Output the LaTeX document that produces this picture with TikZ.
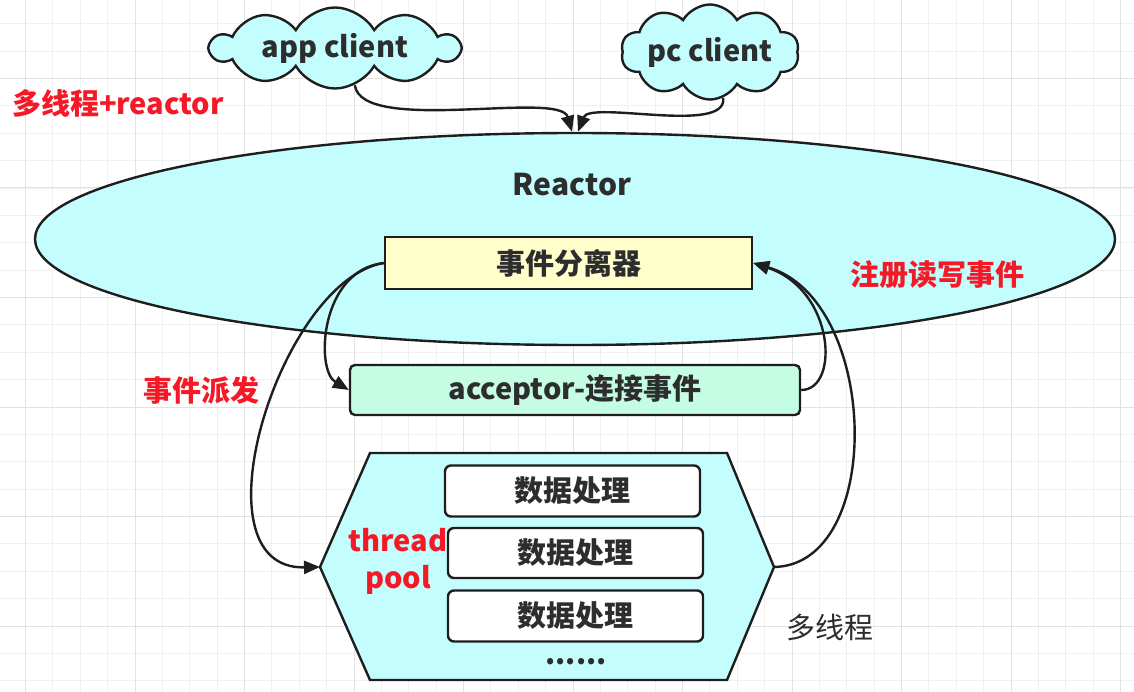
\documentclass[tikz,border=0pt]{standalone}
\usepackage{fontspec}
\setmainfont{Noto Sans CJK SC}
\usetikzlibrary{shapes.symbols, shapes.geometric, arrows.meta, positioning}
\definecolor{cyanfill}{RGB}{196,253,253}
\definecolor{yellowfill}{RGB}{255,255,204}
\definecolor{mintfill}{RGB}{196,252,228}
\definecolor{redtxt}{RGB}{245,25,40}
\definecolor{darktxt}{RGB}{45,45,45}
\definecolor{linecol}{RGB}{30,30,30}
\definecolor{gridminor}{RGB}{240,240,240}
\definecolor{gridmajor}{RGB}{226,226,226}

\begin{document}
\begin{tikzpicture}[x=1pt, y=-1pt,
    txt/.style={text=darktxt, font=\bfseries\fontsize{29}{29}\selectfont},
    redlabel/.style={text=redtxt, font=\bfseries\fontsize{29}{37}\selectfont, align=center},
    cloudnode/.style={cloud, cloud puffs=10, cloud puff arc=120, cloud ignores aspect,
      draw=linecol, fill=cyanfill, line width=2.4pt, inner sep=0pt, txt},
    evbox/.style={draw=linecol, fill=yellowfill, line width=2.4pt, minimum width=367pt,
      minimum height=52pt, txt},
    accbox/.style={draw=linecol, fill=mintfill, line width=2.4pt, rounded corners=5pt,
      minimum width=450pt, minimum height=50pt, txt},
    workbox/.style={draw=linecol, fill=white, line width=2.4pt, rounded corners=6pt,
      minimum width=255pt, minimum height=51pt, txt},
    flow/.style={draw=linecol, line width=2.4pt, -{Triangle[length=16pt,width=13pt]}}]
  \useasboundingbox (0,0) rectangle (1134,692);
  \fill[white] (0,0) rectangle (1134,692);

  % grid
  \foreach \gx in {0,...,41}
    \draw[gridminor, line width=1pt] ({25.5+27.375*\gx},0) -- ++(0,692);
  \foreach \gy in {0,...,25}
    \draw[gridminor, line width=1pt] (0,{23.8+27.375*\gy}) -- ++(1134,0);
  \foreach \gx in {0,...,10}
    \draw[gridmajor, line width=1pt] ({25.5+109.5*\gx},0) -- ++(0,692);
  \foreach \gy in {0,...,6}
    \draw[gridmajor, line width=1pt] (0,{78.5+109.5*\gy}) -- ++(1134,0);

  % clients
  \node[cloudnode, minimum width=248pt, minimum height=81pt] (app) at (335,48) {app client};
  \node[cloudnode, minimum width=178pt, minimum height=95pt] (pc) at (710,52) {pc client};
  \node[redlabel] (title) at (118,103) {多线程+reactor};

  % reactor
  \node[ellipse, draw=linecol, fill=cyanfill, line width=2.4pt, inner sep=0pt,
        minimum width=1080pt, minimum height=212pt] (reactor) at (575,239) {};
  \node[txt, font=\bfseries\fontsize{30}{30}\selectfont] (reactortxt) at (572,185) {Reactor};
  \node[evbox] (demux) at (568.5,263) {事件分离器};
  \node[redlabel] (reglabel) at (937,275) {注册读写事件};

  \node[accbox] (acceptor) at (575,390) {acceptor-连接事件};
  \node[redlabel] (dispatch) at (201,390) {事件派发};

  % thread pool
  \coordinate (poolw) at (320,567);
  \coordinate (poole) at (774,567);
  \draw[draw=linecol, fill=cyanfill, line width=2.4pt, line join=miter]
    (poolw) -- (370,453) -- (727,453) -- (poole) -- (727,680) -- (370,680) -- cycle;
  \node[workbox] (work1) at (572.5,491) {数据处理};
  \node[workbox, minimum height=50pt] (work2) at (575.5,553) {数据处理};
  \node[workbox] (work3) at (575.5,616) {数据处理};
  \node[txt] (dots) at (576,662) {......};
  \node[redlabel] (pool) at (398,561) {thread\\pool};
  \node[text=darktxt, font=\fontsize{29}{29}\selectfont] (multi) at (830,627) {多线程};

  % connectors
  \draw[flow] (app.-62) .. controls (362,135) and (560,90) .. ([xshift=-3pt]reactor.north);
  \draw[flow] (pc.-74) .. controls (728,135) and (590,100) .. ([xshift=3pt]reactor.north);
  \draw[flow] (demux.west) .. controls (320,270) and (315,370) .. (acceptor.west);
  \draw[flow] (demux.west) .. controls (280,280) and (190,570) .. (poolw);
  \draw[flow] (acceptor.east) .. controls (840,390) and (835,290) .. (demux.east);
  \draw[flow] (poole) .. controls (885,565) and (880,300) .. (demux.east);
\end{tikzpicture}
\end{document}
